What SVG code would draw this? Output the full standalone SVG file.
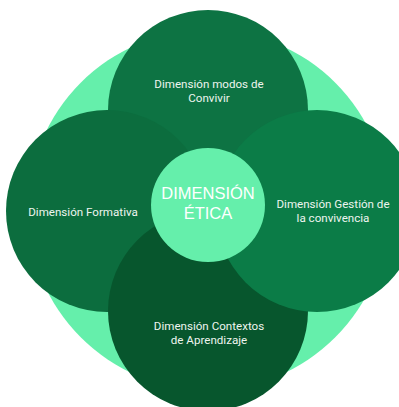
<svg xmlns="http://www.w3.org/2000/svg" width="399" height="407" viewBox="0 0 399 407">
<style>
.lbl{font-family:Roboto,"Liberation Sans",sans-serif;font-size:11.6px;fill:#eef5ef;text-anchor:middle}
.ctr{font-family:"Liberation Sans",Arial,sans-serif;font-size:16.5px;fill:#ffffff;text-anchor:middle}
</style>
<rect width="399" height="407" fill="#ffffff"/>
<g id="fondo"><circle cx="208" cy="210" r="180" fill="#65efab"/></g>
<g id="connectors"></g>
<g id="modos">
<circle cx="208" cy="110" r="100" fill="#0d7343"/>
<text class="lbl" x="209" y="88">Dimensión modos de</text>
<text class="lbl" x="209" y="102">Convivir</text>
</g>
<g id="formativa">
<circle cx="107" cy="211" r="101" fill="#0c6d3e"/>
<text class="lbl" x="83" y="216">Dimensión Formativa</text>
</g>
<g id="contextos">
<circle cx="208" cy="311" r="100" fill="#07562d"/>
<text class="lbl" x="209" y="330">Dimensión Contextos</text>
<text class="lbl" x="209" y="344">de Aprendizaje</text>
</g>
<g id="gestion">
<circle cx="317" cy="211" r="101" fill="#0b7c47"/>
<text class="lbl" x="333" y="208">Dimensión Gestión de</text>
<text class="lbl" x="333" y="222">la convivencia</text>
</g>
<g id="etica">
<circle cx="208" cy="205" r="57" fill="#65efab"/>
<text class="ctr" x="208" y="199">DIMENSIÓN</text>
<text class="ctr" x="208" y="219">ÉTICA</text>
</g>
</svg>
